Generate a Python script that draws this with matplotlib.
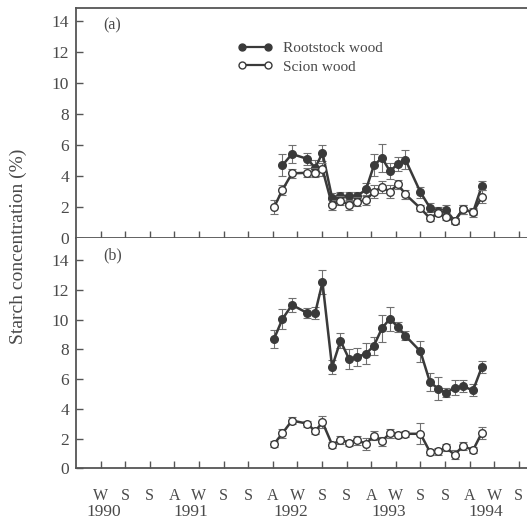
import matplotlib
matplotlib.use('Agg')
import matplotlib.pyplot as plt
from matplotlib.lines import Line2D
import matplotlib.transforms as mtransforms

# ---- data ----
# sampling positions in "season tick" units (tick k = k-th season mark)
sample_pos = [8.05, 8.39, 8.78, 9.41, 9.72, 10.02, 10.41, 10.75, 11.10, 11.42,
              11.79, 12.11, 12.44, 12.76, 13.09, 13.39, 14.00, 14.39, 14.72,
              15.04, 15.39, 15.73, 16.14, 16.50]

# panel (a)
a_root_pos = sample_pos[1:]
a_root = [4.67, 5.40, 5.08, 4.50, 5.47, 2.57, 2.68, 2.68, 2.68, 3.11, 4.67,
          5.15, 4.29, 4.76, 5.04, 2.94, 1.93, 1.70, 1.80, 1.08, 1.83, 1.64, 3.35]
a_root_err = [0.7, 0.6, 0.4, 0.5, 0.5, 0.3, 0.3, 0.3, 0.3, 0.4, 0.7, 0.9,
              0.5, 0.45, 0.6, 0.35, 0.3, 0.25, 0.3, 0.2, 0.3, 0.3, 0.3]
a_scion = [1.96, 3.08, 4.15, 4.19, 4.19, 4.41, 2.11, 2.39, 2.11, 2.32, 2.43,
           2.97, 3.27, 2.97, 3.44, 2.80, 1.90, 1.25, 1.60, 1.35, 1.08, 1.83,
           1.64, 2.65]
a_scion_err = [0.45, 0.35, 0.3, 0.3, 0.3, 0.4, 0.3, 0.3, 0.3, 0.3, 0.3, 0.4,
               0.4, 0.4, 0.3, 0.3, 0.2, 0.2, 0.2, 0.2, 0.2, 0.3, 0.2, 0.4]

# panel (b)
b_root = [8.70, 10.03, 10.98, 10.43, 10.43, 12.50, 6.81, 8.57, 7.35, 7.48,
          7.70, 8.24, 9.42, 10.05, 9.49, 8.91, 7.86, 5.78, 5.36, 5.07, 5.41,
          5.51, 5.24, 6.81]
b_root_err = [0.6, 0.65, 0.5, 0.35, 0.4, 0.8, 0.45, 0.5, 0.7, 0.6, 0.7, 0.6,
              0.9, 0.8, 0.35, 0.3, 0.7, 0.6, 0.8, 0.3, 0.5, 0.4, 0.4, 0.4]
b_scion = [1.63, 2.35, 3.21, 3.00, 2.48, 3.10, 1.59, 1.90, 1.73, 1.88, 1.65,
           2.19, 1.83, 2.35, 2.26, 2.32, 2.32, 1.10, 1.14, 1.40, 0.91, 1.50,
           1.22, 2.40]
b_scion_err = [0.2, 0.3, 0.25, 0.2, 0.2, 0.4, 0.2, 0.3, 0.2, 0.3, 0.4, 0.3,
               0.3, 0.3, 0.2, 0.2, 0.7, 0.2, 0.25, 0.25, 0.3, 0.3, 0.2, 0.4]

season_ticks = list(range(1, 19))
season_labels = ['W', 'S', 'S', 'A', 'W', 'S', 'S', 'A', 'W', 'S', 'S', 'A',
                 'W', 'S', 'S', 'A', 'W', 'S']
year_pos = [1.14, 4.67, 8.74, 12.72, 16.67]
year_labels = ['1990', '1991', '1992', '1993', '1994']
y_ticks = [0, 2, 4, 6, 8, 10, 12, 14]

# ---- style ----
plt.rcParams['font.family'] = ['Liberation Serif', 'DejaVu Serif']
LC = '#3a3a3a'
EC = '#707070'
TC = '#4a4a4a'
AX = '#555555'

fig = plt.figure(figsize=(5.27, 5.21), dpi=100)
W, H = 527.0, 521.0
L = 76 / W
ax_a = fig.add_axes([L, 1 - 237.7 / H, 1.0 - L, (237.7 - 8.3) / H])
ax_b = fig.add_axes([L, 1 - 468.3 / H, 1.0 - L, (468.3 - 237.7) / H])


def draw(ax, x, y, e, filled, z):
    ax.errorbar(x, y, yerr=e, fmt='none', ecolor=EC, elinewidth=0.8,
                capsize=3, capthick=0.8, zorder=z)
    ax.plot(x, y, '-', color=LC, lw=1.8, marker='o', ms=5.5,
            mfc=LC if filled else 'white', mec=LC, mew=1.0, zorder=z + 1)


draw(ax_a, a_root_pos, a_root, a_root_err, True, 2)
draw(ax_a, sample_pos, a_scion, a_scion_err, False, 4)
draw(ax_b, sample_pos, b_root, b_root_err, True, 2)
draw(ax_b, sample_pos, b_scion, b_scion_err, False, 4)

for ax, top in ((ax_a, 14.8), (ax_b, 15.5)):
    ax.set_xlim(0, 451 / 24.6)
    ax.set_ylim(0, top)
    ax.set_yticks(y_ticks)
    ax.set_xticks(season_ticks)
    ax.tick_params(axis='both', direction='in', colors=AX, labelcolor=TC,
                   labelsize=12.5, width=1.0)
    ax.tick_params(axis='y', length=5, pad=5)
    ax.tick_params(axis='x', length=5)
    ax.spines['right'].set_visible(False)
    for s in ('left', 'bottom', 'top'):
        ax.spines[s].set_color(AX)
        ax.spines[s].set_linewidth(1.3)

ax_b.spines['top'].set_visible(False)
ax_a.set_xticklabels([])
ax_b.set_xticklabels(season_labels, fontsize=11.5)
ax_b.tick_params(axis='x', pad=14)

trans = mtransforms.blended_transform_factory(ax_b.transData, ax_b.transAxes)
for xp, lab in zip(year_pos, year_labels):
    ax_b.text(xp, -0.19, lab, transform=trans, ha='center', va='center',
              fontsize=12.5, color=TC)

ax_a.text(0.06, 0.925, '(a)', transform=ax_a.transAxes, fontsize=11.5,
          color=TC, va='center', ha='left')
ax_b.text(0.06, 0.925, '(b)', transform=ax_b.transAxes, fontsize=11.5,
          color=TC, va='center', ha='left')

handles = [Line2D([0], [0], color=LC, lw=1.6, marker='o', ms=5, mfc=LC, mec=LC),
           Line2D([0], [0], color=LC, lw=1.6, marker='o', ms=5, mfc='white', mec=LC)]
leg = ax_a.legend(handles, ['Rootstock wood', 'Scion wood'], loc='upper left',
                  bbox_to_anchor=(0.359, 0.855), frameon=False, numpoints=2,
                  fontsize=11, handlelength=2.3, handletextpad=0.65,
                  labelspacing=0.3, borderaxespad=0, borderpad=0)
for t in leg.get_texts():
    t.set_color(TC)

fig.text(18 / W, 1 - 246 / H, 'Starch concentration (%)', rotation=90,
         ha='center', va='center', fontsize=14, color=TC)

fig.savefig('out.png', dpi=100)
